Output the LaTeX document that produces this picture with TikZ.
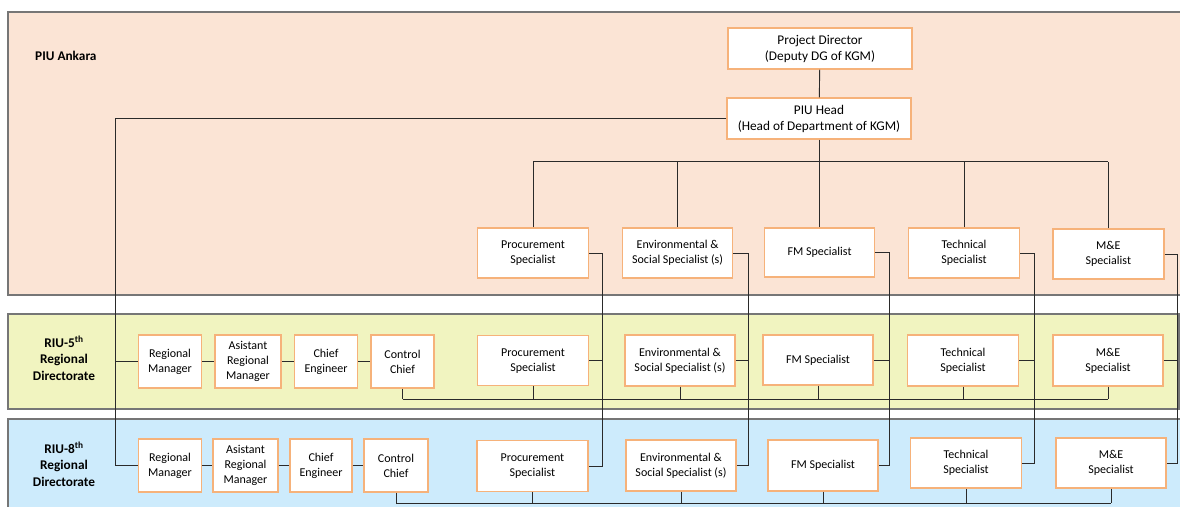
\documentclass[tikz,border=0pt]{standalone}
\usepackage{fontspec}
\setmainfont{Carlito}
\definecolor{peach}{HTML}{FBE4D5}
\definecolor{lime}{HTML}{F1F4C0}
\definecolor{sky}{HTML}{CDEBFC}
\definecolor{boxc}{HTML}{F6B27A}
\definecolor{bandc}{HTML}{767676}
\definecolor{linec}{HTML}{2A2A2A}
\begin{document}
\begin{tikzpicture}[x=1pt,y=-1pt,
  obox/.style={draw=boxc, fill=white, line width=1.4pt, inner sep=0pt, align=center, font=\fontsize{12}{15}\selectfont},
  bigtext/.style={font=\fontsize{13.3}{16}\selectfont},
  sz/.style 2 args={minimum width=#1pt, minimum height=#2pt},
  conn/.style={draw=linec, line width=0.9pt},
  band/.style={draw=bandc, line width=1.3pt},
  lbl/.style={font=\fontsize{13.3}{16.5}\selectfont\bfseries, align=center, inner sep=0pt}]
\useasboundingbox (0,0) rectangle (1180,506);
\clip (0,0) rectangle (1180,506);
% bands
\path[band, fill=peach] (8,12) rectangle (1195,295);
\path[band, fill=lime] (8,314) rectangle (1179,409);
\path[band, fill=sky] (8,419) rectangle (1195,520);
% band labels
\node[lbl, anchor=west] (lA) at (35,55.5) {PIU Ankara};
\node[lbl] (l5) at (64,358) {RIU-5\textsuperscript{th}\\Regional\\Directorate};
\node[lbl] (l8) at (64,464) {RIU-8\textsuperscript{th}\\Regional\\Directorate};
% top nodes
\node[obox, bigtext, sz={184}{41}] (pd) at (820,48.5) {Project Director\\(Deputy DG of KGM)};
\node[obox, bigtext, sz={184}{41}] (ph) at (819,118.5) {PIU Head\\(Head of Department of KGM)};
\node[obox, sz={111}{50}] (tP) at (533,253) {Procurement\\Specialist};
\node[obox, sz={110}{50}] (tE) at (677.6,253) {Environmental \&\\Social Specialist (s)};
\node[obox, sz={110}{49}] (tF) at (819.6,252.5) {FM Specialist};
\node[obox, sz={111}{50}] (tT) at (964,253) {Technical\\Specialist};
\node[obox, sz={111}{50}] (tM) at (1108.3,254) {M\&E\\Specialist};
% RIU-5
\node[obox, sz={63}{53}] (aR) at (170,361.5) {Regional\\Manager};
\node[obox, sz={66}{53}] (aA) at (248,361.5) {Asistant\\Regional\\Manager};
\node[obox, sz={63}{53}] (aC) at (326,361.5) {Chief\\Engineer};
\node[obox, sz={63}{53}] (aK) at (402.5,361.5) {Control\\Chief};
\node[obox, sz={111}{50}] (aP) at (533,360.7) {Procurement\\Specialist};
\node[obox, sz={110}{51}] (aE) at (680,360.5) {Environmental \&\\Social Specialist (s)};
\node[obox, sz={110}{50}] (aF) at (818,360) {FM Specialist};
\node[obox, sz={111}{51}] (aT) at (963,360.5) {Technical\\Specialist};
\node[obox, sz={110}{51}] (aM) at (1108,360.5) {M\&E\\Specialist};
% RIU-8
\node[obox, sz={63}{53}] (bR) at (170,465.5) {Regional\\Manager};
\node[obox, sz={65}{53}] (bA) at (245.5,465.5) {Asistant\\Regional\\Manager};
\node[obox, sz={62}{53}] (bC) at (321,465.5) {Chief\\Engineer};
\node[obox, sz={64}{53}] (bK) at (396,465.5) {Control\\Chief};
\node[obox, sz={111}{51}] (bP) at (532.4,466) {Procurement\\Specialist};
\node[obox, sz={110}{51}] (bE) at (681,465.5) {Environmental \&\\Social Specialist (s)};
\node[obox, sz={110}{51}] (bF) at (823,465.5) {FM Specialist};
\node[obox, sz={111}{50}] (bT) at (966,463) {Technical\\Specialist};
\node[obox, sz={110}{50}] (bM) at (1111,463) {M\&E\\Specialist};
% coordinates
\coordinate (busT) at (0,161.7);
\coordinate (bus5) at (0,399);
\coordinate (bus8) at (0,503);
\coordinate (vL) at (115,0);
\coordinate (vP) at (602,0);
\coordinate (vE) at (748,0);
\coordinate (vF) at (889,0);
\coordinate (vT) at (1034,0);
\coordinate (vM) at (1177,0);
% top hierarchy
\draw[conn] (pd) -- (ph);
\draw[conn] (ph.south) -- (ph.south |- busT);
\draw[conn] (tP.north |- busT) -- (tM.north |- busT);
\foreach \n in {tP,tE,tF,tT,tM} \draw[conn] (\n.north) -- (\n.north |- busT);
% left vertical line
\draw[conn] (ph.west) -- (ph.west -| vL) -- (bR.west -| vL) -- (bR.west);
\draw[conn] (aR.west -| vL) -- (aR.west);
% chains
\draw[conn] (aR) -- (aA) -- (aC) -- (aK);
\draw[conn] (bR) -- (bA) -- (bC) -- (bK);
% bottom buses
\draw[conn] (aK.south |- bus5) -- (aM.south |- bus5);
\foreach \n in {aK,aP,aE,aF,aT,aM} \draw[conn] (\n.south) -- (\n.south |- bus5);
\draw[conn] (bK.south |- bus8) -- (bM.south |- bus8);
\foreach \n in {bK,bP,bE,bF,bT,bM} \draw[conn] (\n.south) -- (\n.south |- bus8);
% right-side verticals
\foreach \t/\a/\b/\v in {tP/aP/bP/vP, tE/aE/bE/vE, tF/aF/bF/vF, tT/aT/bT/vT, tM/aM/bM/vM} {
  \draw[conn] (\t.east) -- (\t.east -| \v) -- (\b.east -| \v) -- (\b.east);
  \draw[conn] (\a.east) -- (\a.east -| \v);
}
\end{tikzpicture}
\end{document}
